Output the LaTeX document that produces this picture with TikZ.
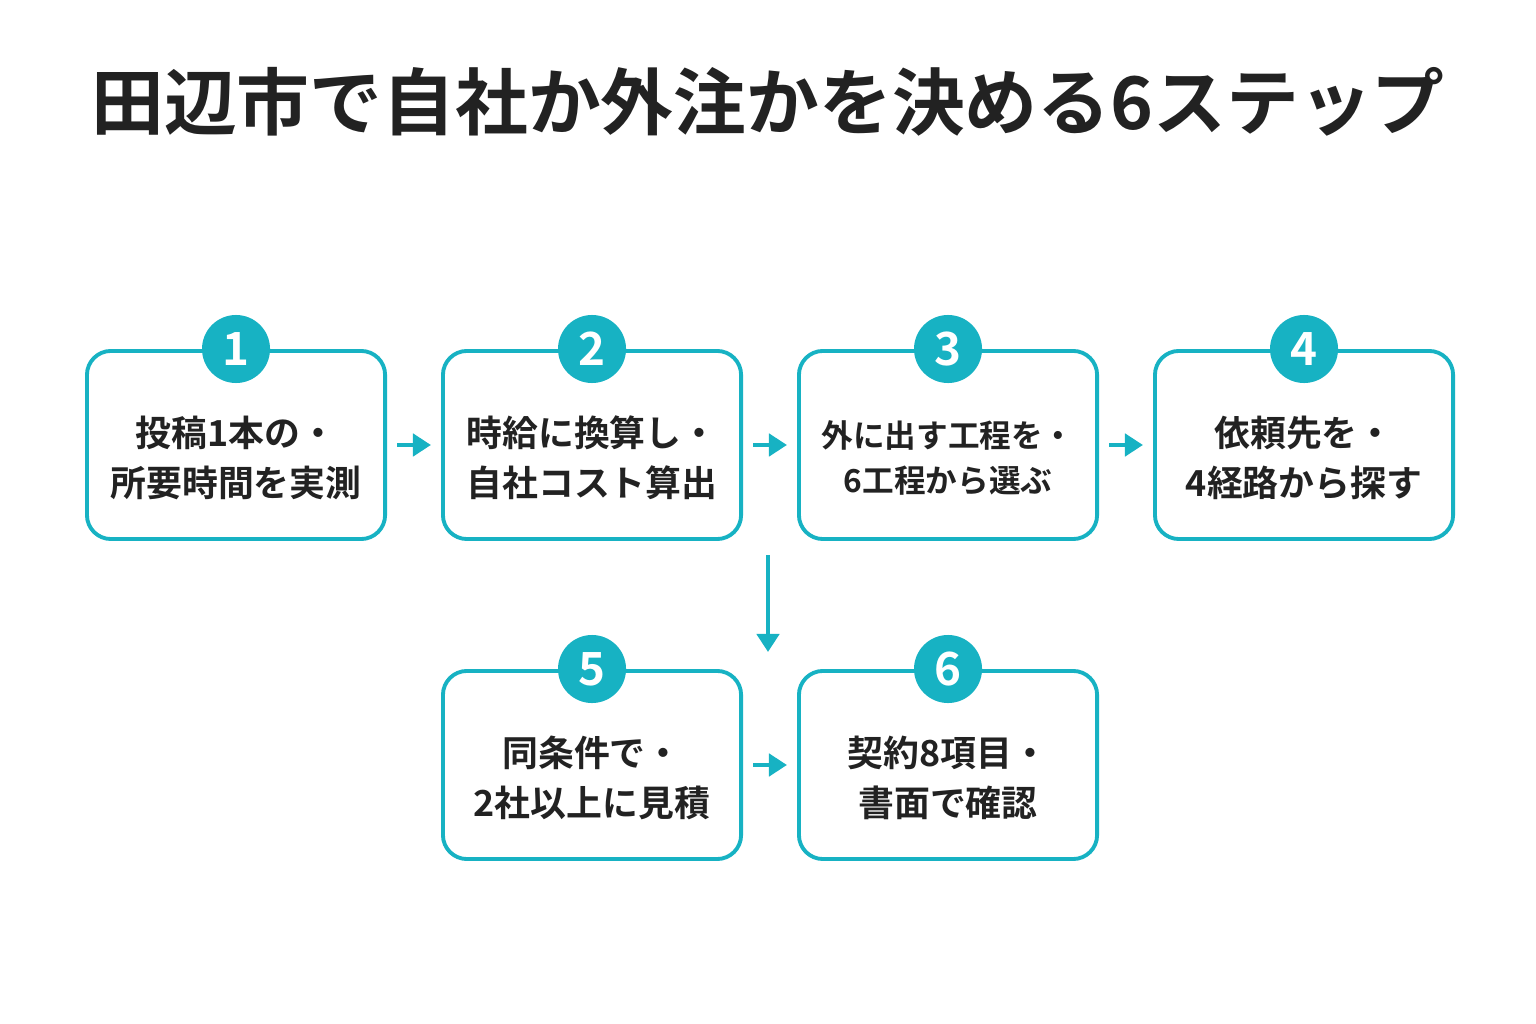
\documentclass[tikz,border=0pt]{standalone}
\usepackage{fontspec}
\setmainfont{Noto Sans CJK JP}[BoldFont={* Bold}]
\newfontfamily\jpbold{Noto Sans CJK JP Bold}
\usetikzlibrary{arrows.meta}
\definecolor{teal}{HTML}{17B2C3}
\definecolor{ink}{HTML}{222222}
\begin{document}
\begin{tikzpicture}
[x=0.01cm, y=-0.01cm, >={Triangle[length=1.8mm,width=2.2mm]},
 stepbox/.style={draw=teal, line width=1.1pt, rounded corners=2.4mm, minimum width=2.98cm, minimum height=1.88cm, inner sep=0, anchor=north west, align=center, text=ink, font=\jpbold\fontsize{10.2}{14}\selectfont},
 badge/.style={circle, fill=teal, minimum size=0.68cm, inner sep=0, text=white, font=\jpbold\fontsize{13}{13}\selectfont},
 link/.style={->, draw=teal, line width=1.4pt}]
\useasboundingbox (0,0) rectangle (1536,1024);
\node (title) [text=ink, font=\jpbold\fontsize{20.7}{21}\selectfont] at (768,102) {田辺市で自社か外注かを決める6ステップ};
% row 1
\node (s1) [stepbox] at (85,349) {\\[2pt]投稿1本の・\\所要時間を実測};
\node (s2) [stepbox] at (441,349) {\\[2pt]時給に換算し・\\自社コスト算出};
\node (s3) [stepbox, font=\jpbold\fontsize{9}{13}\selectfont] at (797,349) {\\[2pt]外に出す工程を・\\6工程から選ぶ};
\node (s4) [stepbox] at (1153,349) {\\[2pt]依頼先を・\\4経路から探す};
% row 2
\node (s5) [stepbox] at (441,669) {\\[2pt]同条件で・\\2社以上に見積};
\node (s6) [stepbox] at (797,669) {\\[2pt]契約8項目・\\書面で確認};
\foreach \s/\n in {s1/1, s2/2, s3/3, s4/4, s5/5, s6/6}
  \node (b\n) [badge] at (\s.north) {\n};
\draw [link] ([xshift=0.1cm]s1.east) -- ([xshift=-0.1cm]s2.west);
\draw [link] ([xshift=0.1cm]s2.east) -- ([xshift=-0.1cm]s3.west);
\draw [link] ([xshift=0.1cm]s3.east) -- ([xshift=-0.1cm]s4.west);
\coordinate (down1) at (768,555);
\coordinate (down2) at (768,652);
\draw [link] (down1) -- (down2);
\draw [link] ([xshift=0.1cm]s5.east) -- ([xshift=-0.1cm]s6.west);
\end{tikzpicture}
\end{document}
